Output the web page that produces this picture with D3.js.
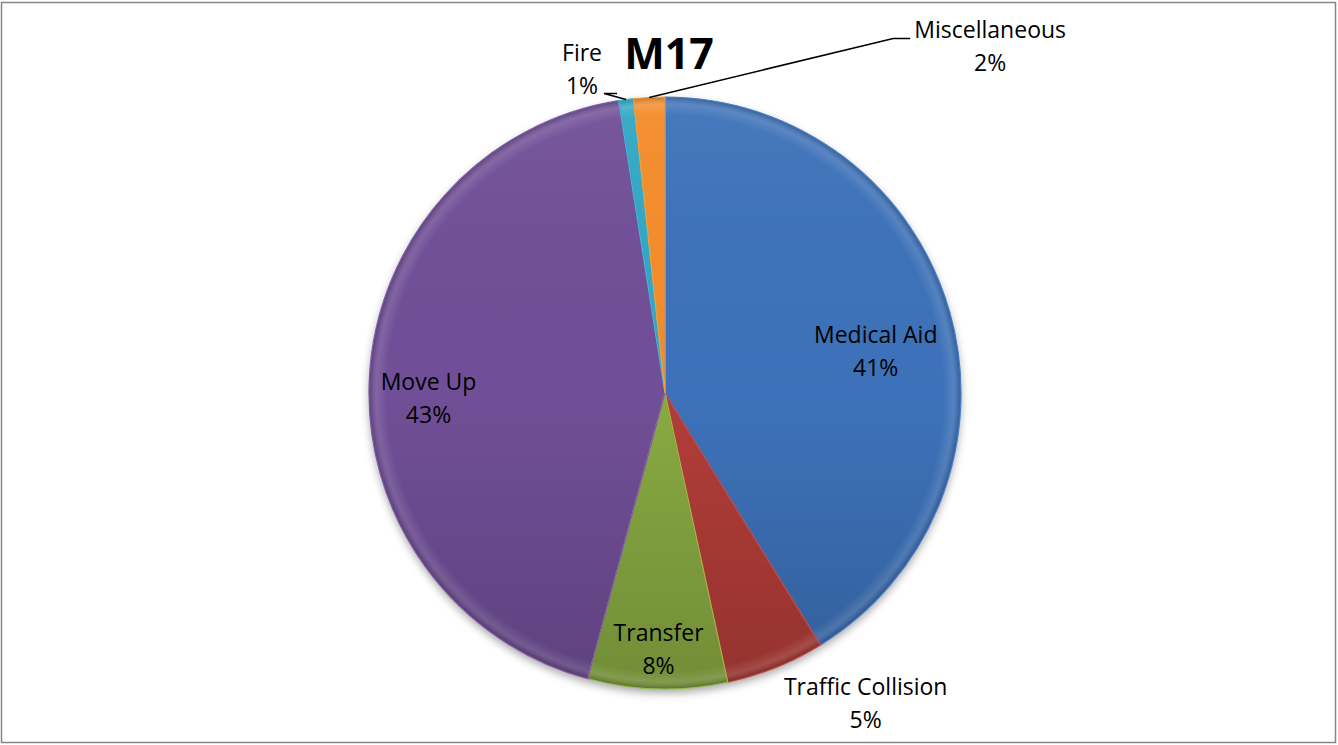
<!DOCTYPE html>
<html>
<head>
<meta charset="utf-8">
<script src="https://cdn.jsdelivr.net/npm/d3@7"></script>
<style>
  html, body { margin: 0; padding: 0; background: #fff; }
  svg { display: block; }
  text { font-family: "Open Sans", "Noto Sans", sans-serif; fill: #000; }
</style>
</head>
<body>
<div id="chart"></div>
<script>
// data (percent of calls)
const categories = ["Medical Aid", "Traffic Collision", "Transfer", "Move Up", "Fire", "Miscellaneous"];
const values = [41.2, 5.4, 7.6, 43.3, 0.8, 1.7];
const colours = ["#3d72ba", "#b33d39", "#88aa42", "#714f98", "#33a8c4", "#f58c2c"];
const title = "M17";

const W = 1338, H = 745;
const cx = 665, cy = 393, R = 296;

const svg = d3.select("#chart").append("svg")
    .attr("width", W)
    .attr("height", H);

const defs = svg.append("defs");

const shadow = defs.append("filter")
    .attr("id", "shadow")
    .attr("x", "-10%").attr("y", "-10%")
    .attr("width", "120%").attr("height", "125%");
shadow.append("feDropShadow")
    .attr("dx", 0).attr("dy", 4)
    .attr("stdDeviation", 4)
    .attr("flood-color", "#000")
    .attr("flood-opacity", 0.35);

// slightly lighter top, darker bottom
const shade = defs.append("linearGradient")
    .attr("id", "shade")
    .attr("gradientUnits", "userSpaceOnUse")
    .attr("x1", 0).attr("y1", -R)
    .attr("x2", 0).attr("y2", R);
shade.append("stop").attr("offset", 0).attr("stop-color", "#fff").attr("stop-opacity", 0.05);
shade.append("stop").attr("offset", 0.5).attr("stop-color", "#000").attr("stop-opacity", 0.0);
shade.append("stop").attr("offset", 1).attr("stop-color", "#000").attr("stop-opacity", 0.17);

// rim of the bevel
const rim = defs.append("radialGradient")
    .attr("id", "rim")
    .attr("gradientUnits", "userSpaceOnUse")
    .attr("cx", 0).attr("cy", 0).attr("r", R);
rim.append("stop").attr("offset", 0.94).attr("stop-color", "#fff").attr("stop-opacity", 0);
rim.append("stop").attr("offset", 0.975).attr("stop-color", "#fff").attr("stop-opacity", 0.12);
rim.append("stop").attr("offset", 1).attr("stop-color", "#000").attr("stop-opacity", 0.2);

// chart border
svg.append("rect")
    .attr("x", 1.5).attr("y", 2.5)
    .attr("width", W - 4).attr("height", H - 5)
    .attr("fill", "none")
    .attr("stroke", "#868686")
    .attr("stroke-width", 1.5);

const pie = d3.pie().sort(null).value(d => d.v);
const data = pie(categories.map((c, i) => ({name: c, v: values[i], col: colours[i]})));
const arc = d3.arc().innerRadius(0).outerRadius(R);

const g = svg.append("g").attr("transform", `translate(${cx},${cy})`);

g.append("g").attr("filter", "url(#shadow)")
  .selectAll("path")
    .data(data)
    .join("path")
    .attr("d", arc)
    .attr("fill", d => d.data.col);

g.append("g").selectAll("path")
    .data(data)
    .join("path")
    .attr("d", arc)
    .attr("fill", "url(#shade)");

g.append("g").selectAll("path")
    .data(data)
    .join("path")
    .attr("d", arc)
    .attr("fill", "url(#rim)")
    .attr("stroke", d => d3.color(d.data.col).brighter(0.3))
    .attr("stroke-width", 1.2);

const fmt = d3.format(".0%");
const total = d3.sum(values);
const midPoint = (d, r) => {
    const a = (d.startAngle + d.endAngle) / 2;
    return [cx + Math.sin(a) * r, cy - Math.cos(a) * r];
};

// where each label sits: inside at a share of the radius, or outside with a leader
const place = {
    "Medical Aid": {r: 0.74, dy: 18},
    "Move Up": {r: 0.8, dy: 18},
    "Transfer": {r: 0.865, dy: 0},
    "Traffic Collision": {out: true, dx: 90, dy: 35},
    "Fire": {out: true, dx: -44, dy: -31, leader: [[-22, -6], [-9, -6]]},
    "Miscellaneous": {out: true, dx: 341, dy: -51, leader: [[244, -59], [261, -59]]}
};

const labels = svg.append("g");
data.forEach(d => {
    const name = d.data.name;
    const pct = fmt(d.data.v / total);
    const o = place[name];
    let x, y;
    if (o.out) {
        const [px, py] = midPoint(d, R);
        x = px + o.dx; y = py + o.dy;
        if (o.leader) {
            const pts = [[px, py]].concat(o.leader.map(p => [px + p[0], py + p[1]]));
            labels.append("path")
                .attr("d", d3.line()(pts))
                .attr("fill", "none")
                .attr("stroke", "#000")
                .attr("stroke-width", 1.5);
        }
    } else {
        const [px, py] = midPoint(d, R * o.r);
        x = px; y = py + o.dy;
    }
    const t = labels.append("text")
        .attr("text-anchor", "middle")
        .attr("font-size", 23);
    t.append("tspan").attr("x", x).attr("y", y - 8).text(name);
    t.append("tspan").attr("x", x).attr("y", y + 25).text(pct);
});

svg.append("text")
    .attr("x", 669).attr("y", 69)
    .attr("text-anchor", "middle")
    .attr("font-size", 43)
    .attr("font-weight", "bold")
    .text(title);
</script>
</body>
</html>
